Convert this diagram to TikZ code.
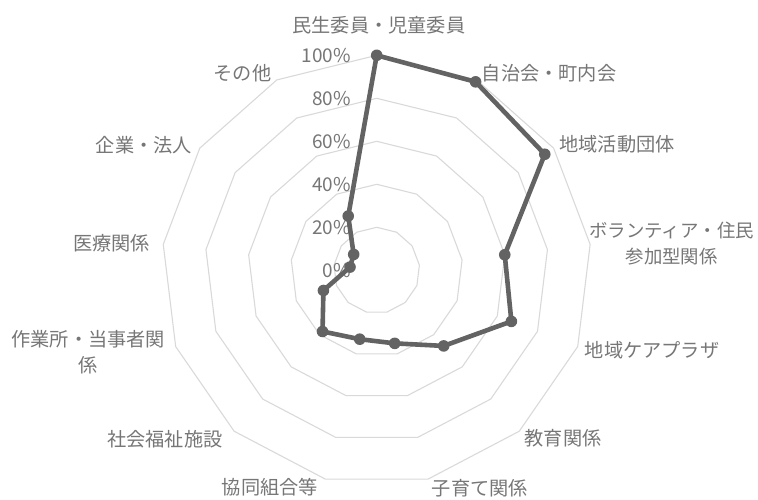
\documentclass[tikz,border=0pt]{standalone}
\usepackage{fontspec}
\setmainfont{Noto Sans CJK JP}
\definecolor{ringgray}{RGB}{217,217,217}
\definecolor{seriesgray}{RGB}{99,99,99}
\definecolor{labelgray}{RGB}{118,118,118}
\tikzset{
  ring/.style={draw=ringgray, line width=1.1pt, line join=round},
  series/.style={draw=seriesgray, line width=4.6pt, line join=round},
  catlabel/.style={text=labelgray, font=\fontsize{19.2}{25.5}\selectfont, inner sep=0pt, align=center},
  pctlabel/.style={text=labelgray, font=\fontsize{19}{22}\selectfont, inner sep=0pt, anchor=east}
}
\begin{document}
\begin{tikzpicture}[x=1pt, y=1pt]
	\useasboundingbox (-376.7, -228.7) rectangle (381.3, 270.3);
	% grid rings, 20% apart (43pt each)
	\foreach \r in {1,...,5}
		\draw[ring] (90:\r*43) \foreach \k in {1,...,12} { -- ({90-\k*360/13}:\r*43) } -- cycle;
	
	% percent scale
	\foreach \p [count=\i from 0] in {0\%,20\%,40\%,60\%,80\%,100\%}
		\node[pctlabel] (pct\i) at (-25.5, \i*43) {\p};
	
	% values in percent, clockwise from the top
	\foreach \v [count=\k from 0] in {100,99,95,60,67,47,35,33,38,26.5,12.5,13,28.5}
		\coordinate (d\k) at ({90-\k*360/13}:{\v*2.15});
	\draw[series] (d0) \foreach \k in {1,...,12} { -- (d\k) } -- cycle;
	\foreach \k in {0,...,12}
		\fill[seriesgray] (d\k) circle (5.8);
	
	% category labels
	\node[catlabel] (minsei) at (2.3, 245.3) {民生委員・児童委員};
	\node[catlabel] (jichikai) at (172.3, 197) {自治会・町内会};
	\node[catlabel] (chiiki) at (240.3, 126.3) {地域活動団体};
	\node[catlabel, font=\fontsize{18.4}{25.5}\selectfont] (volunteer) at (295, 26.8) {ボランティア・住民\\参加型関係};
	\node[catlabel] (plaza) at (275.3, -79.7) {地域ケアプラザ};
	\node[catlabel] (kyoiku) at (186.3, -168) {教育関係};
	\node[catlabel] (kosodate) at (103.3, -218) {子育て関係};
	\node[catlabel] (kyodo) at (-106.7, -216.4) {協同組合等};
	\node[catlabel] (shisetsu) at (-211.7, -169) {社会福祉施設};
	\node[catlabel] (sagyosho) at (-288.4, -81.7) {作業所・当事者関\\係};
	\node[catlabel] (iryo) at (-265, 27) {医療関係};
	\node[catlabel] (kigyo) at (-232.7, 125.3) {企業・法人};
	\node[catlabel] (sonota) at (-134.2, 197) {その他};
\end{tikzpicture}
\end{document}
